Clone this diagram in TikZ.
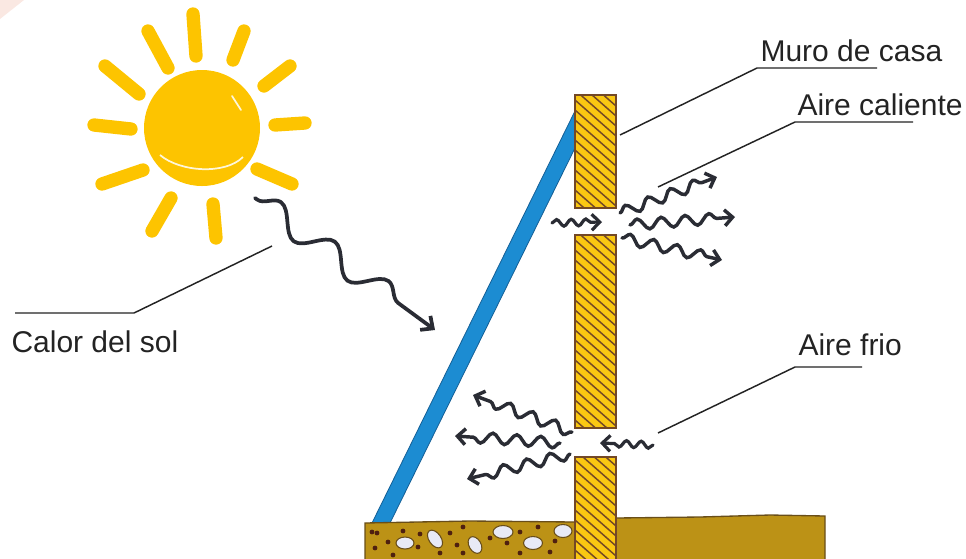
\documentclass[tikz,border=0pt]{standalone}
\usepackage{fontspec}
\setmainfont{Liberation Sans}
\usetikzlibrary{arrows.meta,decorations.pathmorphing}

\definecolor{sunyellow}{RGB}{253,196,0}
\definecolor{wallyellow}{RGB}{250,200,18}
\definecolor{wallbrown}{RGB}{115,72,38}
\definecolor{glassblue}{RGB}{28,140,210}
\definecolor{glassedge}{RGB}{20,95,150}
\definecolor{soil}{RGB}{188,146,22}
\definecolor{soiledge}{RGB}{105,78,25}
\definecolor{pebble}{RGB}{232,234,246}
\definecolor{grit}{RGB}{78,32,16}
\definecolor{waveink}{RGB}{42,44,52}
\definecolor{labelink}{RGB}{35,35,35}

\tikzset{every picture/.style={line width=0.75pt},
  ray/.style={sunyellow, line width=10pt, line cap=round},
  sunwave/.style={waveink, line width=2.8pt, line cap=round, decorate,
    decoration={snake, segment length=50pt, amplitude=9pt, pre length=2pt, post length=10pt},
    -{Straight Barb[length=7pt,width=13pt]}},
  airwave/.style={waveink, line width=2.6pt, line cap=round, decorate,
    decoration={snake, segment length=18pt, amplitude=4pt, post length=7pt},
    -{Straight Barb[length=6pt,width=12pt]}},
  smallwave/.style={waveink, line width=2.4pt, line cap=round, decorate,
    decoration={snake, segment length=11pt, amplitude=2.5pt, post length=6pt},
    -{Straight Barb[length=6pt,width=12pt]}},
  leader/.style={labelink, line width=1.1pt},
  tag/.style={anchor=base west, inner sep=0pt, text=labelink,
    font=\fontsize{22.5}{27}\selectfont},
  pebblestone/.style={fill=pebble, draw=soiledge, line width=0.8pt},
}

\begin{document}
\begin{tikzpicture}[x=0.75pt,y=0.75pt,yscale=-1,xscale=1]
\useasboundingbox (0,0) rectangle (966,558);

% corner tint
\fill[red!35!brown!30, opacity=0.45] (0,0) -- (24,0) -- (0,19) -- cycle;

%Sun: rays
\draw[ray] (193,14) -- (196,56);
\draw[ray] (244,31) -- (233,60);
\draw[ray] (290,66) -- (264,86);
\draw[ray] (275,125) -- (305,123);
\draw[ray] (257,169) -- (292,184);
\draw[ray] (213,204) -- (216,238);
\draw[ray] (171,198) -- (152,231);
\draw[ray] (143,170) -- (102,184);
\draw[ray] (94,125) -- (131,129);
\draw[ray] (105,66) -- (139,94);
\draw[ray] (148,31) -- (168,68);
%Sun: disc
\fill[sunyellow] (202,128) circle (58);
\draw[white, line width=1.3pt, opacity=0.85] (160,155) .. controls (180,172) and (225,175) .. (243,157);
\draw[white, line width=1.3pt, line cap=round, opacity=0.85] (232,96) -- (241,110);

%Glass pane
\draw[glassedge, fill=glassblue, line width=0.6pt] (575,111) -- (372,523) -- (390,523) -- (575,148) -- cycle;

%Ground, left side with gravel
\draw[soiledge, fill=soil, line width=1pt] (365,560) -- (365,523) -- (470,521) -- (575,522) -- (575,560);
\foreach \px/\py in {372/532,377/533,403/531,420/534,450/533,463/527,520/532,538/527,
                     388/542,418/547,457/545,507/543,375/548,393/555,440/553,463/553,
                     520/553,550/552,490/538,555/541}
  \fill[grit] (\px,\py) circle (2.4);
\draw[pebblestone] (405,543) ellipse (9 and 6);
\draw[pebblestone, rotate around={55:(435,539)}] (435,539) ellipse (10 and 6);
\draw[pebblestone, rotate around={60:(475,545)}] (475,545) ellipse (9 and 6);
\draw[pebblestone] (503,532) ellipse (10 and 6.5);
\draw[pebblestone] (533,543) ellipse (9.5 and 6.5);
\draw[pebblestone] (563,531) ellipse (9 and 6.5);

%Ground, right side
\draw[soiledge, fill=soil, line width=1pt] (616,560) -- (616,518) -- (700,517) -- (770,515) -- (825,516) -- (825,560);

%Wall with opening top and bottom
\begin{scope}
  \clip (575,95) rectangle (616,208) (575,235) rectangle (616,428) (575,457) rectangle (616,560);
  \fill[wallyellow] (575,95) rectangle (616,560);
  \foreach \y in {50,60,...,560}
    \draw[wallbrown, line width=1.1pt] (575,\y) -- ++(41,36);
\end{scope}
\draw[wallbrown, line width=1.2pt] (575,95) rectangle (616,208) (575,235) rectangle (616,428) (575,457) rectangle (616,560);

%Heat from the sun
\coordinate (sunA) at (255,198);
\coordinate (sunB) at (435,330);
\draw[sunwave] (sunA) -- (sunB);

%Warm air through the upper opening
\coordinate (hotInA) at (552,223);
\coordinate (hotInB) at (602,222);
\coordinate (hotA1) at (620,213);
\coordinate (hotB1) at (717,177);
\coordinate (hotA2) at (630,225);
\coordinate (hotB2) at (735,217);
\coordinate (hotA3) at (622,238);
\coordinate (hotB3) at (722,260);
\draw[smallwave] (hotInA) -- (hotInB);
\draw[airwave] (hotA1) -- (hotB1);
\draw[airwave] (hotA2) -- (hotB2);
\draw[airwave] (hotA3) -- (hotB3);

%Cool air through the lower opening
\coordinate (coldInA) at (653,445);
\coordinate (coldInB) at (600,443);
\coordinate (coldA1) at (572,432);
\coordinate (coldB1) at (473,395);
\coordinate (coldA2) at (560,443);
\coordinate (coldB2) at (455,436);
\coordinate (coldA3) at (570,454);
\coordinate (coldB3) at (467,479);
\draw[smallwave] (coldInA) -- (coldInB);
\draw[airwave] (coldA1) -- (coldB1);
\draw[airwave] (coldA2) -- (coldB2);
\draw[airwave] (coldA3) -- (coldB3);

% Text Node
\node[tag] (muro) at (760,61) {Muro de casa};
\coordinate (muroU) at (757,68);
\coordinate (muroE) at (877,68);
\coordinate (muroP) at (620,135);
\draw[leader] (muroP) -- (muroU) -- (muroE);
% Text Node
\node[tag] (caliente) at (797,115) {Aire caliente};
\coordinate (calU) at (795,122);
\coordinate (calE) at (913,122);
\coordinate (calP) at (658,187);
\draw[leader] (calP) -- (calU) -- (calE);
% Text Node
\node[tag] (frio) at (798,355) {Aire frio};
\coordinate (frioU) at (795,367);
\coordinate (frioE) at (862,367);
\coordinate (frioP) at (658,433);
\draw[leader] (frioP) -- (frioU) -- (frioE);
% Text Node
\node[tag] (calor) at (11,352) {Calor del sol};
\coordinate (calorU) at (134,313);
\coordinate (calorE) at (15,313);
\coordinate (calorP) at (272,246);
\draw[leader] (calorP) -- (calorU) -- (calorE);

\end{tikzpicture}
\end{document}
